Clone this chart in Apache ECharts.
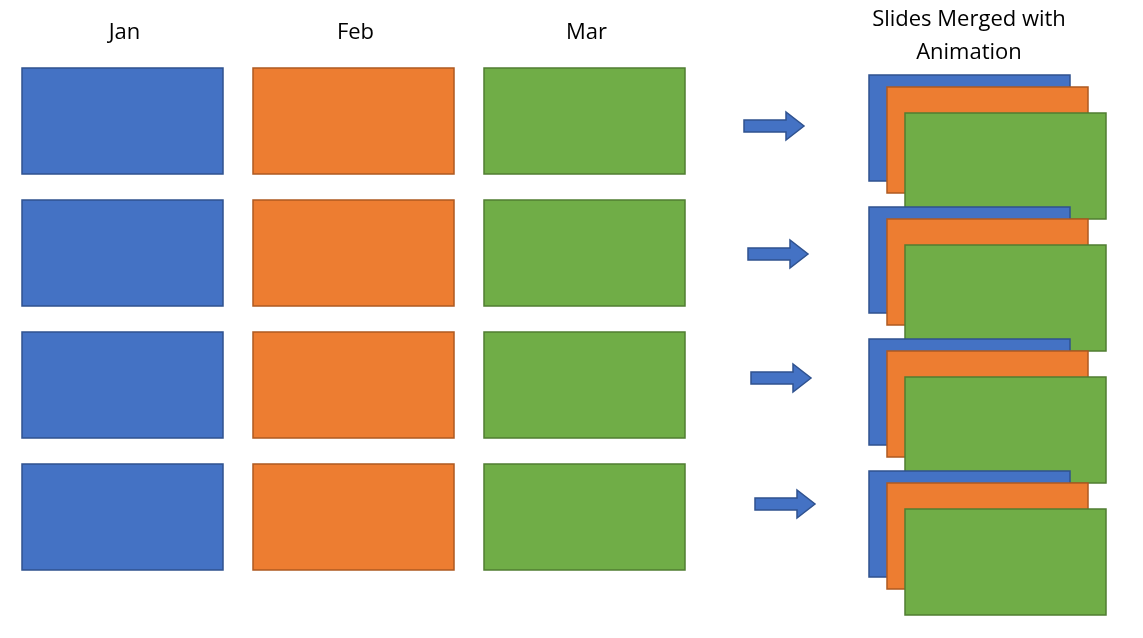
<!DOCTYPE html>
<html><head><meta charset="utf-8">
<script src="https://cdn.jsdelivr.net/npm/echarts@6/dist/echarts.min.js"></script>
<style>html,body{margin:0;padding:0;background:#fff}#c{width:1143px;height:638px}</style>
</head><body><div id="c"></div>
<script>
const categories = ['Jan', 'Feb', 'Mar'];
const mergedTitle = 'Slides Merged with\nAnimation';
const colStarts = [22, 253, 484];
const rowStarts = [68, 200, 332, 464];
const stackOffsets = [[869, 7], [887, 19], [905, 45]];
const arrowStarts = [[744, 126], [748, 254], [751, 378], [755, 504]];
const boxW = 201, boxH = 106;
const fills = ['#4472C4', '#ED7D31', '#70AD47'];
const strokes = ['#2F528F', '#AE5A21', '#507E32'];

const rects = [];
rowStarts.forEach(y => colStarts.forEach((x, i) => rects.push([x, y, x + boxW, y + boxH, i])));
rowStarts.forEach(y => stackOffsets.forEach(([x, dy], i) => rects.push([x, y + dy, x + boxW, y + dy + boxH, i])));

const chart = echarts.init(document.getElementById('c'));
chart.setOption({
  animation: false,
  grid: {left: 0, right: 0, top: 0, bottom: 0},
  xAxis: {type: 'value', min: 0, max: 1143, show: false},
  yAxis: {type: 'value', min: 0, max: 638, inverse: true, show: false},
  series: [
    {
      type: 'custom', data: rects,
      renderItem: (p, api) => {
        const a = api.coord([api.value(0), api.value(1)]);
        const b = api.coord([api.value(2), api.value(3)]);
        const k = api.value(4);
        return {type: 'rect', shape: {x: a[0], y: a[1], width: b[0] - a[0], height: b[1] - a[1]},
          style: {fill: fills[k], stroke: strokes[k], lineWidth: 1.5}};
      }
    },
    {
      type: 'custom', data: arrowStarts,
      renderItem: (p, api) => {
        const x = api.value(0), c = api.value(1);
        const pts = [[x, c - 6], [x + 42, c - 6], [x + 42, c - 14], [x + 60, c], [x + 42, c + 14], [x + 42, c + 6], [x, c + 6]]
          .map(q => api.coord(q));
        return {type: 'polygon', shape: {points: pts}, style: {fill: '#4472C4', stroke: '#2F528F', lineWidth: 1.5}};
      }
    },
    {
      type: 'custom',
      data: categories.map((c, i) => [colStarts[i] + boxW / 2 + 2, 33, c]).concat([[969, 36, mergedTitle]]),
      renderItem: (p, api) => {
        const pt = api.coord([api.value(0), api.value(1)]);
        return {type: 'text', x: pt[0], y: pt[1],
          style: {text: api.value(2), fill: '#000', font: '22px "Open Sans", sans-serif', align: 'center', verticalAlign: 'middle', lineHeight: 33}};
      }
    }
  ]
});
</script></body></html>
